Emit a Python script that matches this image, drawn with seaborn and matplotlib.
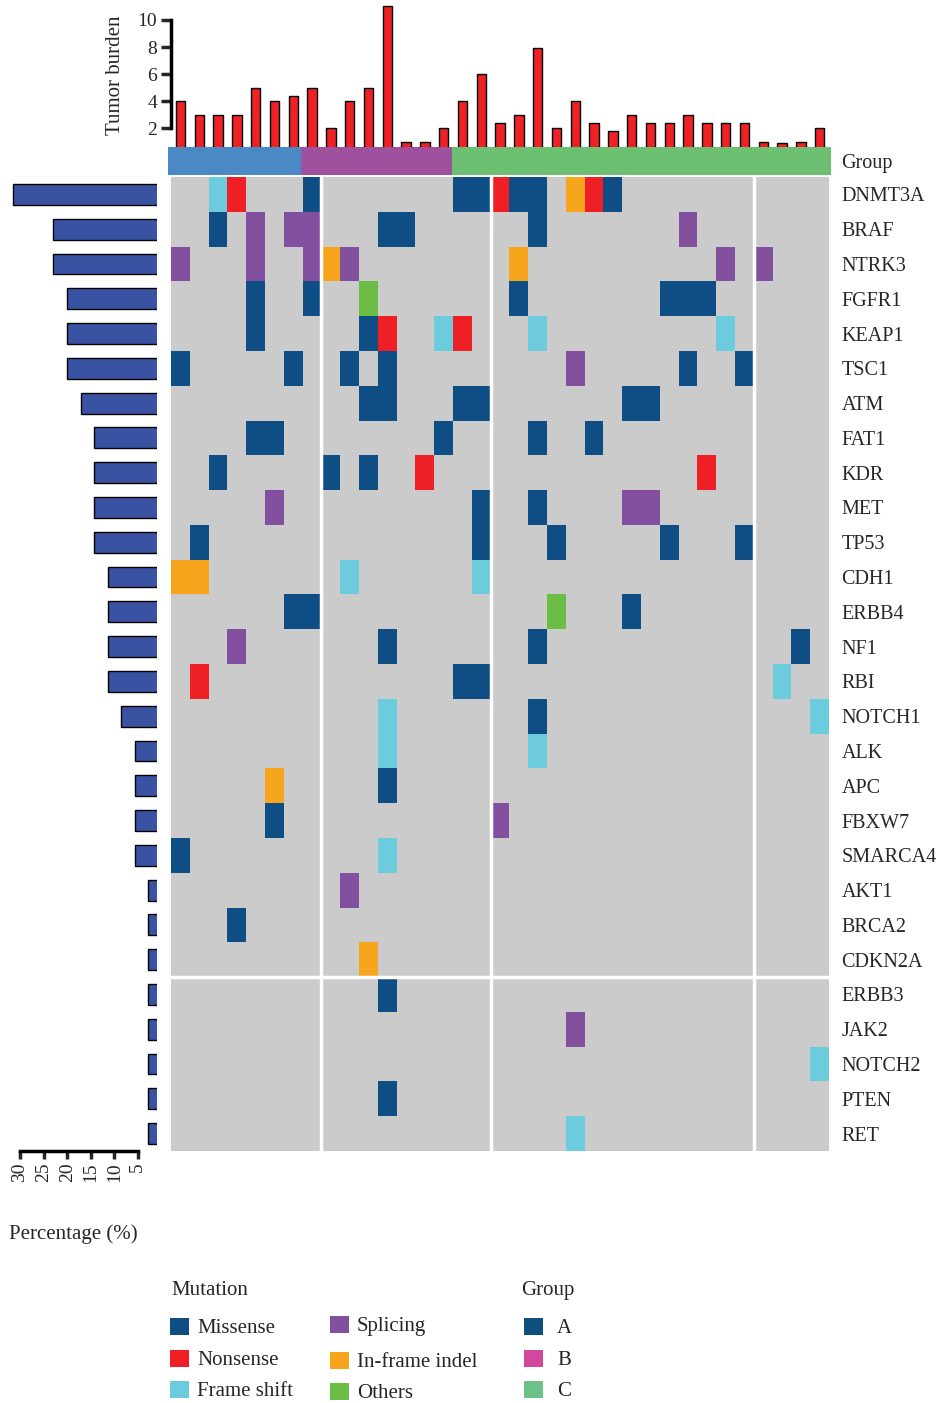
import numpy as np
import seaborn as sns
import matplotlib.pyplot as plt
from matplotlib.colors import ListedColormap
from matplotlib.patches import Rectangle

# genes (rows of the oncoplot), top to bottom
genes = ['DNMT3A', 'BRAF', 'NTRK3', 'FGFR1', 'KEAP1', 'TSC1', 'ATM', 'FAT1', 'KDR',
         'MET', 'TP53', 'CDH1', 'ERBB4', 'NF1', 'RBI', 'NOTCH1', 'ALK', 'APC', 'FBXW7',
         'SMARCA4', 'AKT1', 'BRCA2', 'CDKN2A', 'ERBB3', 'JAK2', 'NOTCH2', 'PTEN', 'RET']

# mutation calls per gene, one char per sample (35 samples, spaces only for reading)
# . none, M missense, N nonsense, F frame shift, S splicing, I in-frame indel, O others
calls = [
    '..FN. ..M.. ..... MMNMM .INM. ..... .....',  # DNMT3A
    '..M.S .SS.. .MM.. ....M ..... ..S.. .....',  # BRAF
    'S...S ..SIS ..... ...I. ..... ....S .S...',  # NTRK3
    '....M ..M.. O.... ...M. ..... .MMM. .....',  # FGFR1
    '....M ..... MN..F N...F ..... ....F .....',  # KEAP1
    'M.... .M..M .M... ..... .S... ..M.. M....',  # TSC1
    '..... ..... MM... MM... ....M M.... .....',  # ATM
    '....M M.... ....M ....M ..M.. ..... .....',  # FAT1
    '..M.. ...M. M..N. ..... ..... ...N. .....',  # KDR
    '..... S.... ..... .M..M ....S S.... .....',  # MET
    '.M... ..... ..... .M... M.... .M... M....',  # TP53
    'II... ....F ..... .F... ..... ..... .....',  # CDH1
    '..... .MM.. ..... ..... O...M ..... .....',  # ERBB4
    '...S. ..... .M... ....M ..... ..... ...M.',  # NF1
    '.N... ..... ..... MM... ..... ..... ..F..',  # RBI
    '..... ..... .F... ....M ..... ..... ....F',  # NOTCH1
    '..... ..... .F... ....F ..... ..... .....',  # ALK
    '..... I.... .M... ..... ..... ..... .....',  # APC
    '..... M.... ..... ..S.. ..... ..... .....',  # FBXW7
    'M.... ..... .F... ..... ..... ..... .....',  # SMARCA4
    '..... ....S ..... ..... ..... ..... .....',  # AKT1
    '...M. ..... ..... ..... ..... ..... .....',  # BRCA2
    '..... ..... I.... ..... ..... ..... .....',  # CDKN2A
    '..... ..... .M... ..... ..... ..... .....',  # ERBB3
    '..... ..... ..... ..... .S... ..... .....',  # JAK2
    '..... ..... ..... ..... ..... ..... ....F',  # NOTCH2
    '..... ..... .M... ..... ..... ..... .....',  # PTEN
    '..... ..... ..... ..... .F... ..... .....',  # RET
]

# mutation frequency (%) shown on the left
mut_pct = [31.4, 22.9, 22.9, 20.0, 20.0, 20.0, 17.1, 14.3, 14.3, 14.3, 14.3, 11.4, 11.4,
           11.4, 11.4, 8.6, 5.7, 5.7, 5.7, 5.7, 2.9, 2.9, 2.9, 2.9, 2.9, 2.9, 2.9, 2.9]

# tumor burden per sample (top bars)
burden = [4, 3, 3, 3, 5, 4, 4.4, 5, 2, 4, 5, 11, 1, 1, 2, 4, 6, 2.4, 3, 7.9, 2, 4, 2.4,
          1.8, 3, 2.4, 2.4, 3, 2.4, 2.4, 2.4, 1, 0.9, 1, 2]

# sample groups
groups = ['A'] * 7 + ['B'] * 8 + ['C'] * 20

mut_types = ['Missense', 'Nonsense', 'Frame shift', 'Splicing', 'In-frame indel', 'Others']
mut_codes = 'MNFSIO'
mut_colors = ['#0F4D85', '#EE1F25', '#6CCBDC', '#8350A0', '#F8A51E', '#6CBD45']
none_color = '#CBCBCB'
grp_bar_colors = ['#4A88C6', '#A0519E', '#6DC072']
grp_leg_colors = ['#0E4F7E', '#D2489C', '#6BC187']

sns.set_style('white')
plt.rcParams['font.family'] = ['Liberation Serif', 'DejaVu Serif']

W, H = 939, 1403
fig = plt.figure(figsize=(W / 100, H / 100), dpi=100)


def px_axes(x0, y0, x1, y1):
    return fig.add_axes([x0 / W, 1 - y1 / H, (x1 - x0) / W, (y1 - y0) / H])


# build mutation matrix
mat = np.zeros((len(genes), 35), dtype=int)
for i, row in enumerate(calls):
    row = row.replace(' ', '')
    assert len(row) == 35
    for j, c in enumerate(row):
        if c != '.':
            mat[i, j] = mut_codes.index(c) + 1

# main heatmap
ax_hm = px_axes(171, 177, 829, 1151)
sns.heatmap(mat, ax=ax_hm, cmap=ListedColormap([none_color] + mut_colors),
            vmin=-0.5, vmax=6.5, cbar=False, xticklabels=False, yticklabels=genes)
for xv in [8, 17, 31]:
    ax_hm.axvline(xv, color='white', lw=2.5)
ax_hm.axhline(23, color='white', lw=2.5)
ax_hm.yaxis.tick_right()
ax_hm.tick_params(axis='y', length=0, pad=9, labelsize=14.5)
plt.setp(ax_hm.get_yticklabels(), rotation=0, va='center_baseline')
ax_hm.set_xlabel('')
ax_hm.set_ylabel('')

# group bar
ax_grp = px_axes(168, 147, 831, 175)
grp_idx = np.array([[['A', 'B', 'C'].index(g) for g in groups]])
sns.heatmap(grp_idx, ax=ax_grp, cmap=ListedColormap(grp_bar_colors), vmin=-0.5, vmax=2.5,
            cbar=False, xticklabels=False, yticklabels=False)
fig.text(841 / W, 1 - 161 / H, 'Group', fontsize=14.5, va='center_baseline', ha='left')

# tumor burden bars
ax_top = px_axes(171, 5, 829, 147)
sns.barplot(x=list(range(35)), y=burden, ax=ax_top, color='#EE2224', saturation=1,
            width=0.5, edgecolor='black', linewidth=1)
ax_top.set_xlim(-0.5, 34.5)
ax_top.set_ylim(0.62, 11.1)
for s in ['top', 'right', 'bottom']:
    ax_top.spines[s].set_visible(False)
ax_top.spines['left'].set_bounds(2, 10)
ax_top.spines['left'].set_linewidth(2.5)
ax_top.spines['left'].set_color('black')
ax_top.set_yticks([2, 4, 6, 8, 10])
ax_top.set_xticks([])
ax_top.tick_params(axis='y', length=7, width=2.5, labelsize=14, pad=3, left=True)
ax_top.set_xlabel('')
ax_top.set_ylabel('')
fig.text(115 / W, 1 - 75 / H, 'Tumor burden', rotation=90, fontsize=15,
         ha='center', va='center')

# mutation frequency bars
ax_left = px_axes(8.2, 177, 156.7, 1151)
sns.barplot(x=mut_pct, y=genes, ax=ax_left, orient='h', color='#3A52A2', saturation=1,
            width=0.6, edgecolor='black', linewidth=1)
ax_left.set_xlim(32.5, 1.0)
ax_left.set_ylim(len(genes) - 0.5, -0.5)
for s in ['top', 'right', 'left']:
    ax_left.spines[s].set_visible(False)
ax_left.spines['bottom'].set_bounds(5, 30)
ax_left.spines['bottom'].set_linewidth(2.5)
ax_left.spines['bottom'].set_color('black')
ax_left.set_xticks([30, 25, 20, 15, 10, 5])
ax_left.set_yticks([])
ax_left.tick_params(axis='x', length=6, width=2.5, labelsize=14, pad=2,
                    labelrotation=90, bottom=True)
ax_left.set_xlabel('')
ax_left.set_ylabel('')
fig.text(73 / W, 1 - 1232 / H, 'Percentage (%)', fontsize=15, ha='center',
         va='center_baseline')

# legend drawn in pixel coordinates
ax_leg = px_axes(0, 1260, W, H)
ax_leg.set_xlim(0, W)
ax_leg.set_ylim(H, 1260)
ax_leg.axis('off')
ax_leg.text(171, 1288, 'Mutation', fontsize=15, va='center_baseline', ha='left')
ax_leg.text(521, 1288, 'Group', fontsize=15, va='center_baseline', ha='left')
leg_pos = [(170, 1326), (170, 1358), (170, 1389), (330, 1324), (330, 1360), (330, 1391)]
for (lx, ly), name, col in zip(leg_pos, mut_types, mut_colors):
    ax_leg.add_patch(Rectangle((lx, ly - 8.5), 19, 17, color=col, lw=0))
    ax_leg.text(lx + 27, ly, name, fontsize=15, va='center_baseline', ha='left')
for ly, name, col in zip([1326, 1358, 1389], ['A', 'B', 'C'], grp_leg_colors):
    ax_leg.add_patch(Rectangle((524, ly - 8.5), 19, 17, color=col, lw=0))
    ax_leg.text(557, ly, name, fontsize=15, va='center_baseline', ha='left')

fig.savefig('out.png', dpi=100)
